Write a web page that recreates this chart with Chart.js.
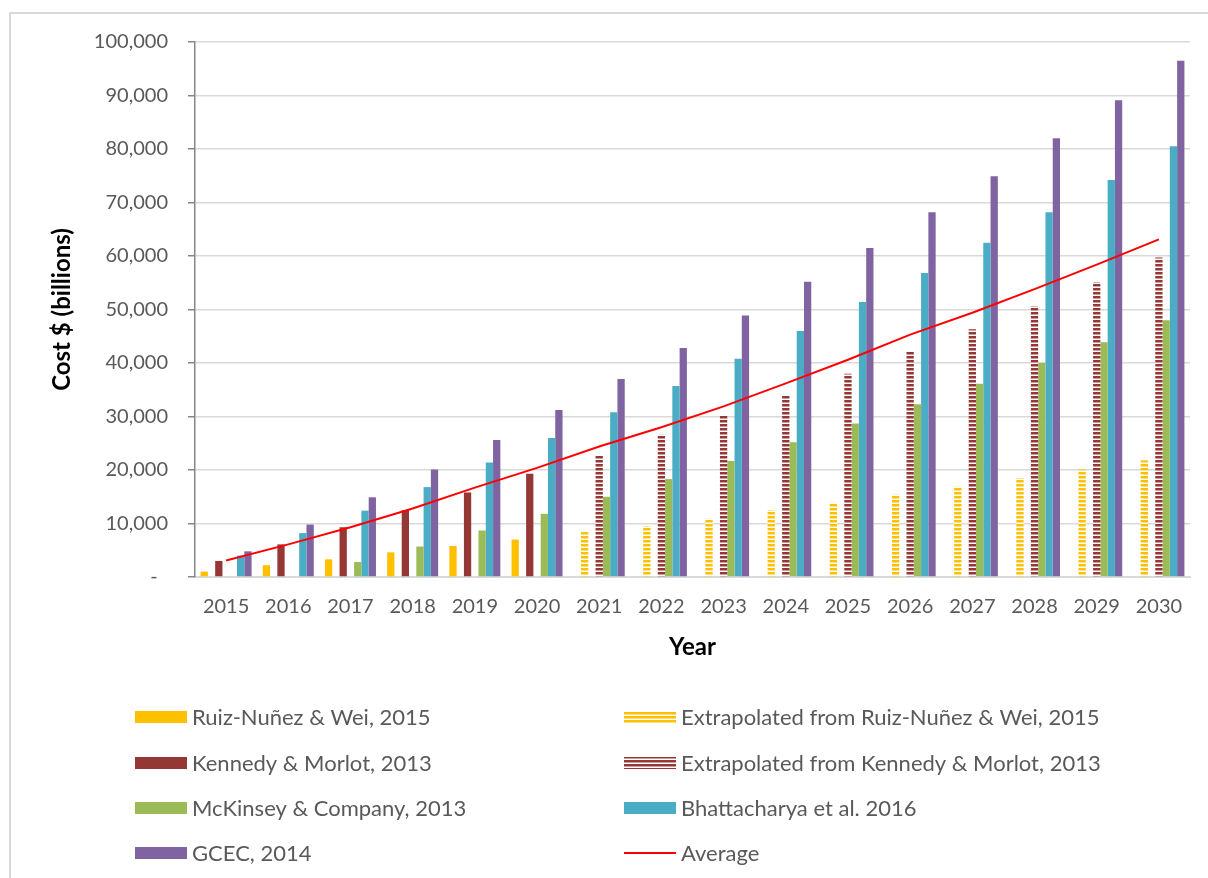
<!DOCTYPE html>
<html><head><meta charset="utf-8">
<script src="https://cdn.jsdelivr.net/npm/chart.js@4.4.1/dist/chart.umd.min.js"></script>
<style>html,body{margin:0;padding:0;background:#fff;}canvas{display:block;}</style>
</head><body>
<canvas id="c" width="1208" height="878"></canvas>
<script>
const years = ['2015','2016','2017','2018','2019','2020','2021','2022','2023','2024','2025','2026','2027','2028','2029','2030'];
const ruiz = [1000, 2200, 3300, 4600, 5800, 7000, null, null, null, null, null, null, null, null, null, null];
const ruizExtrapolated = [null, null, null, null, null, null, 8400, 9500, 10900, 12500, 13900, 15400, 16900, 18500, 20100, 21800];
const kennedy = [3000, 6100, 9300, 12500, 15800, 19300, null, null, null, null, null, null, null, null, null, null];
const kennedyExtrapolated = [null, null, null, null, null, null, 22800, 26600, 30100, 34000, 38000, 42100, 46300, 50600, 55100, 59700];
const mckinsey = [null, null, 2800, 5700, 8700, 11800, 15000, 18300, 21700, 25200, 28700, 32300, 36100, 40000, 43900, 48000];
const bhattacharya = [4000, 8200, 12400, 16800, 21400, 26000, 30800, 35700, 40800, 46000, 51400, 56800, 62500, 68200, 74200, 80500];
const gcec = [4800, 9800, 14900, 20100, 25600, 31200, 37000, 42800, 48900, 55200, 61500, 68200, 74900, 82000, 89100, 96500];
const average = [3100, 6100, 9300, 12800, 16700, 20400, 24400, 28000, 31900, 36200, 40600, 45300, 49400, 53800, 58400, 63100];
const yTickLabels = ['-  ', '10,000', '20,000', '30,000', '40,000', '50,000', '60,000', '70,000', '80,000', '90,000', '100,000'];

const canvas = document.getElementById('c');
const ctx = canvas.getContext('2d');

function stripe(color) {
  const t = document.createElement('canvas');
  t.width = 4; t.height = 4;
  const x = t.getContext('2d');
  x.fillStyle = '#ffffff'; x.fillRect(0, 0, 4, 4);
  x.fillStyle = color; x.fillRect(0, 0, 4, 2);
  x.globalAlpha = 0.5; x.fillRect(0, 2, 4, 1);
  return ctx.createPattern(t, 'repeat');
}

const YELLOW = '#FFC000', BROWN = '#953735', GREEN = '#9BBB59', TEAL = '#4BACC6', PURPLE = '#8064A2';

const frame = {
  id: 'frame',
  beforeDraw(chart) {
    const c = chart.ctx;
    c.save();
    c.fillStyle = '#fff';
    c.fillRect(0, 0, chart.width, chart.height);
    c.strokeStyle = '#d9d9d9';
    c.lineWidth = 2;
    c.strokeRect(10, 13, 1400, 1000);
    c.restore();
  }
};

const customLegend = {
  id: 'customLegend',
  afterDraw(chart) {
    const c = chart.ctx;
    const cols = [135, 624];
    const rows = [717, 763, 808, 853];
    c.save();
    c.font = '22px Lato';
    c.textBaseline = 'middle';
    chart.data.datasets.forEach((d, i) => {
      const x = cols[i % 2], y = rows[Math.floor(i / 2)];
      if (d.type === 'line') {
        c.strokeStyle = d.borderColor; c.lineWidth = 2;
        c.beginPath(); c.moveTo(x, y); c.lineTo(x + 52, y); c.stroke();
      } else {
        c.fillStyle = d.backgroundColor;
        c.fillRect(x, y - 6, 52, 12);
      }
      c.fillStyle = '#595959';
      c.fillText(d.label, x + 57, y + 1);
    });
    c.restore();
  }
};

function bar(label, data, color) {
  return { type: 'bar', label, data, backgroundColor: color, borderWidth: 0, order: 1,
           categoryPercentage: 0.82, barPercentage: 1.0 };
}

function build() {
  new Chart(ctx, {
    data: {
      labels: years,
      datasets: [
        bar('Ruiz-Nuñez & Wei, 2015', ruiz, YELLOW),
        bar('Extrapolated from Ruiz-Nuñez & Wei, 2015', ruizExtrapolated, stripe(YELLOW)),
        bar('Kennedy & Morlot, 2013', kennedy, BROWN),
        bar('Extrapolated from Kennedy & Morlot, 2013', kennedyExtrapolated, stripe(BROWN)),
        bar('McKinsey & Company, 2013', mckinsey, GREEN),
        bar('Bhattacharya et al. 2016', bhattacharya, TEAL),
        bar('GCEC, 2014', gcec, PURPLE),
        { type: 'line', label: 'Average', data: average, borderColor: '#FF0000', borderWidth: 2,
          pointRadius: 0, tension: 0, fill: false, order: 0 }
      ]
    },
    options: {
      responsive: false,
      animation: false,
      layout: { padding: { left: 0, top: 42, right: 18, bottom: 208 } },
      plugins: { legend: { display: false }, tooltip: { enabled: false } },
      scales: {
        x: {
          grid: { display: false, drawTicks: false },
          border: { display: true, color: '#d9d9d9', width: 2 },
          ticks: { color: '#595959', font: { family: 'Lato', size: 20 }, padding: 18, maxRotation: 0 },
          title: { display: true, text: 'Year', color: '#000', font: { family: 'Lato', size: 24, weight: 'bold' }, padding: { top: 0, bottom: 8 } },
          afterFit(s) { s.height = 93; }
        },
        y: {
          min: 0, max: 100000,
          grid: { color: '#d9d9d9', lineWidth: 1.5, tickColor: '#868686', tickLength: 7, drawTicks: true },
          border: { display: true, color: '#868686', width: 1.5 },
          ticks: { stepSize: 10000, color: '#595959', font: { family: 'Lato', size: 20 }, padding: 20,
                   callback: (v, i) => yTickLabels[i] },
          title: { display: true, text: 'Cost $ (billions)', color: '#000', font: { family: 'Lato', size: 24, weight: 'bold' }, padding: { top: 48, bottom: 0 } },
          afterFit(s) { s.width = 195; }
        }
      }
    },
    plugins: [frame, customLegend]
  });
}

if (document.fonts && document.fonts.load) {
  Promise.all([document.fonts.load('20px Lato'), document.fonts.load('22px Lato'), document.fonts.load('bold 24px Lato')]).then(build, build);
} else { build(); }
</script>
</body></html>
